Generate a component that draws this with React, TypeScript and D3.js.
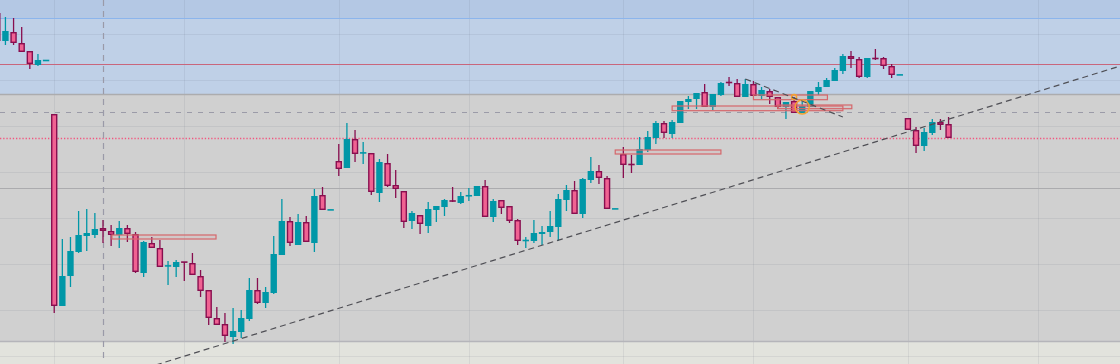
import React, { useRef, useEffect } from 'react';
import * as d3 from 'd3';

const W = 1120;
const H = 364;

// OHLC per bar (bar index = position in array)
const opens = [387, 359, 368, 357, 349, 335, 339.4, 286, 94, 124, 148, 164, 165, 172, 169, 165, 172, 166, 127, 157,
  152, 134, 133, 138, 137, 124, 110, 82, 76, 63, 68, 81, 110, 97, 107, 145, 179, 155, 178, 157,
  205, 190, 239, 232, 261, 247, 247, 207, 237, 215, 209, 179, 185, 174, 190, 193, 200, 197, 204, 204,
  214, 183, 200, 194, 180, 159, 159, 166, 168, 173, 200, 210, 186, 220, 229, 222, 191, 246, 236, 235,
  250, 262, 277, 266, 277, 298, 301, 308, 293, 305, 318, 317, 303, 316, 304, 309, 303, 293, 299, 287,
  293, 308, 313, 319, 329, 344, 341, 323, 342, 342, 334, 325, 282, 270, 254, 267, 278, 276];
const highs = [387, 383, 382, 373, 349, 346, 339.6, 286, 161, 163, 189, 191, 187, 180, 175, 179, 175, 168, 159, 163,
  160, 139, 140, 138, 147, 130, 110, 93, 87, 92, 90, 122, 122, 113, 164, 201, 183, 186, 184, 211,
  213, 190.2, 256, 277, 270, 258, 247, 241, 246, 230, 209, 189, 185, 198, 194, 201, 213, 208, 212, 214,
  220, 201, 200, 194, 181, 163, 180, 174, 189, 206, 215, 219, 222, 243, 235, 224, 191.2, 253, 245, 263,
  269, 279, 279, 280, 299, 304, 307, 316, 306, 318, 323, 321, 321, 319, 313, 311, 303, 298, 303, 298,
  309, 318, 322, 332, 346, 349, 343, 342, 351, 343, 336, 325.2, 282, 273, 272, 281, 281, 283];
const lows = [359, 355, 355, 348, 331, 334, 339.4, 87, 94, 113, 147, 149, 162, 157, 154, 152, 158, 127, 123, 152,
  133, 115, 123, 119, 125, 103, 75, 75, 58, 56, 62, 79, 96, 92, 106, 145, 154, 155, 158, 148,
  190, 190, 224, 232, 238, 236, 205, 198, 213, 202, 172, 171, 166, 167, 178, 184, 198, 196, 199, 204,
  183, 178, 186, 177, 155, 152, 157, 155, 163, 159, 189, 186, 182, 217, 216, 191, 191, 222, 227, 235,
  248, 256, 262, 262, 277, 291, 291, 293, 290, 304, 314, 303, 303, 304, 301, 296, 291, 281, 287, 287,
  293, 305, 313, 319, 326, 332, 322, 322, 340, 331, 322, 325, 270, 247, 249, 265, 270, 262];
const closes = [359, 369, 357, 348, 336, 340, 339.6, 94, 124, 149, 165, 167, 171, 169, 165, 172, 166, 128, 158, 152,
  133, 134.2, 138, 137.8, 125, 109, 82, 75, 64, 69, 82, 110, 97, 108, 146, 179, 157, 178, 158, 204,
  190, 190.2, 231, 261, 246, 247.2, 208, 238, 214, 211, 178, 187, 176, 191, 194, 200, 198, 204, 204.5, 214,
  183, 199, 192, 179, 159, 160, 167, 168, 174, 201, 210, 186, 221, 229, 222, 191, 191.2, 235, 235, 251,
  263, 277, 267, 278, 299, 301, 307, 293, 306, 317, 317, 303, 316, 304, 310, 303, 293, 298, 287, 294,
  309, 313, 320, 330, 344, 341, 323, 342, 341, 334, 325, 325.2, 270, 254, 268, 278, 275, 262];

// price bands: [low, high]
const bandTop = [382, 400];
const bandBlue = [306, 382];
const bandGray = [59, 306];
const bandBottom = [0, 59];

const gridPrices = [366, 320, 274, 228, 182, 136, 90, 44];
const gridBars = [7, 23, 42, 58, 77, 93, 112, 128];
const crosshairBar = 13;

// horizontal price levels
const levelPrices = [382, 336, 306, 288, 262, 212, 59];

// zones drawn as boxes
const boxStart = [14.1, 76, 83, 93, 96];
const boxEnd = [26.9, 89, 104, 102.1, 105.1];
const boxTop = [165, 250, 294, 305, 295];
const boxBottom = [161, 246, 289.3, 300.3, 291.3];

// trend lines [bar, price] pairs
const trendA = [[19.5, 35], [138.5, 335]];
const trendB = [[92, 321], [104, 283]];

// markers
const markerBars = [98, 99];
const markerPrices = [303, 293];
const markerSizes = [2.5, 7];

const UP = '#0097a7';
const DOWN = '#f06292';
const DOWN_EDGE = '#880e4f';

const App = () => {
    const svgRef = useRef();

    useEffect(() => {
        const svg = d3.select(svgRef.current);
        svg.selectAll('*').remove();

        const x = d3.scaleLinear().domain([0, 128]).range([-2.7, 1038]);
        const y = d3.scaleLinear().domain([36, 400]).range([H, 0]);

        // background bands
        const bands = [
            [bandTop, '#b4c8e4'],
            [bandBlue, '#bfd0e7'],
            [bandGray, '#d0d0d0'],
            [bandBottom, '#e2e3dd'],
        ];
        bands.forEach(([b, c]) => {
            svg.append('rect')
                .attr('x', 0).attr('width', W)
                .attr('y', y(b[1])).attr('height', y(b[0]) - y(b[1]))
                .attr('fill', c);
        });

        // grid
        svg.append('g').selectAll('line').data(gridPrices).join('line')
            .attr('x1', 0).attr('x2', W)
            .attr('y1', d => Math.round(y(d)) + 0.5).attr('y2', d => Math.round(y(d)) + 0.5)
            .attr('stroke', 'rgba(90,100,120,0.1)');
        svg.append('g').selectAll('line').data(gridBars).join('line')
            .attr('x1', d => Math.round(x(d)) + 0.5).attr('x2', d => Math.round(x(d)) + 0.5)
            .attr('y1', 0).attr('y2', H)
            .attr('stroke', 'rgba(90,100,120,0.1)');

        // price levels
        const levelStyle = [
            { c: '#8cb5ec', w: 1.2, dash: null },
            { c: '#c9667c', w: 1.2, dash: null },
            { c: '#acacae', w: 1.5, dash: null },
            { c: '#9b9ba8', w: 1.2, dash: '5 6' },
            { c: '#f2567f', w: 1.3, dash: '1.3 1.9' },
            { c: '#ababae', w: 1.2, dash: null },
            { c: '#b5b5ba', w: 1.5, dash: null },
        ];
        levelPrices.forEach((p, i) => {
            const s = levelStyle[i];
            svg.append('line')
                .attr('x1', 0).attr('x2', W)
                .attr('y1', Math.round(y(p)) + 0.5).attr('y2', Math.round(y(p)) + 0.5)
                .attr('stroke', s.c).attr('stroke-width', s.w)
                .attr('stroke-dasharray', s.dash);
        });

        // crosshair
        svg.append('line')
            .attr('x1', Math.round(x(crosshairBar)) + 0.5).attr('x2', Math.round(x(crosshairBar)) + 0.5)
            .attr('y1', 0).attr('y2', 358)
            .attr('stroke', '#9a9aa8').attr('stroke-width', 1.2)
            .attr('stroke-dasharray', '6 5');

        // candles
        const bars = d3.range(opens.length).map(i => ({
            i, o: opens[i], h: highs[i], l: lows[i], c: closes[i], up: closes[i] >= opens[i],
        }));
        const bw = 6.4;
        const g = svg.append('g');
        g.selectAll('.wick').data(bars).join('line')
            .attr('class', 'wick')
            .attr('x1', d => x(d.i)).attr('x2', d => x(d.i))
            .attr('y1', d => y(d.h)).attr('y2', d => y(d.l))
            .attr('stroke', d => d.up ? UP : DOWN_EDGE)
            .attr('stroke-width', 1.3);

        const flat = d => Math.abs(y(d.o) - y(d.c)) < 2;
        g.selectAll('.body').data(bars.filter(d => !flat(d))).join('rect')
            .attr('class', 'body')
            .attr('x', d => d.up ? x(d.i) - bw / 2 : x(d.i) - bw / 2 + 0.7)
            .attr('width', d => d.up ? bw : bw - 1.4)
            .attr('y', d => y(Math.max(d.o, d.c)) + (d.up ? 0 : 0.7))
            .attr('height', d => Math.abs(y(d.o) - y(d.c)) - (d.up ? 0 : 1.4))
            .attr('fill', d => d.up ? UP : DOWN)
            .attr('stroke', d => d.up ? 'none' : DOWN_EDGE)
            .attr('stroke-width', 1.4);
        g.selectAll('.flat').data(bars.filter(flat)).join('rect')
            .attr('class', 'flat')
            .attr('x', d => x(d.i) - bw / 2)
            .attr('width', bw)
            .attr('y', d => y((d.o + d.c) / 2) - 0.8)
            .attr('height', 1.6)
            .attr('fill', d => d.up ? UP : DOWN_EDGE);

        // boxes
        svg.append('g').selectAll('rect').data(boxStart).join('rect')
            .attr('x', (d, i) => x(d))
            .attr('width', (d, i) => x(boxEnd[i]) - x(d))
            .attr('y', (d, i) => y(boxTop[i]))
            .attr('height', (d, i) => y(boxBottom[i]) - y(boxTop[i]))
            .attr('fill', 'rgba(230,90,90,0.06)')
            .attr('stroke', '#d5676b')
            .attr('stroke-width', 1.2);

        // markers
        svg.append('g').selectAll('circle').data(markerBars).join('circle')
            .attr('cx', d => x(d))
            .attr('cy', (d, i) => y(markerPrices[i]))
            .attr('r', (d, i) => markerSizes[i])
            .attr('fill', 'none')
            .attr('stroke', '#f5a230')
            .attr('stroke-width', 1.5);

        // trend lines
        [trendA, trendB].forEach(t => {
            svg.append('line')
                .attr('x1', x(t[0][0])).attr('y1', y(t[0][1]))
                .attr('x2', x(t[1][0])).attr('y2', y(t[1][1]))
                .attr('stroke', '#4f4f55').attr('stroke-width', 1.2)
                .attr('stroke-dasharray', '6 4');
        });
    }, []);

    return (
        <svg ref={svgRef} width={W} height={H}
            style={{ position: 'absolute', left: 0, top: 0, display: 'block' }}></svg>
    );
};

export default App;
